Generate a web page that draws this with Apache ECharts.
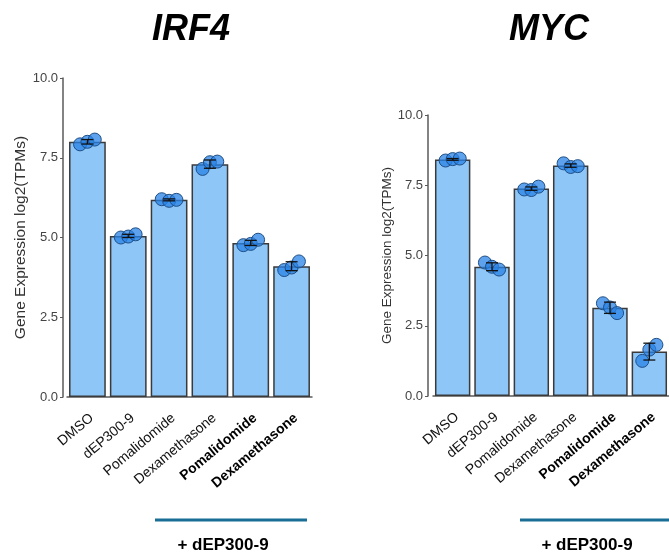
<!DOCTYPE html>
<html>
<head>
<meta charset="utf-8">
<script src="https://cdn.jsdelivr.net/npm/echarts@6/dist/echarts.min.js"></script>
<style>
html,body{margin:0;padding:0;background:#fff;}
#chart{width:669px;height:552px;}
</style>
</head>
<body>
<div id="chart"></div>
<script>
// ---- data ----
const categories = ['DMSO', 'dEP300-9', 'Pomalidomide', 'Dexamethasone', 'Pomalidomide', 'Dexamethasone'];
const boldLabels = [false, false, false, false, true, true];
const yTicks = [0, 2.5, 5, 7.5, 10];

const irf4Means = [8.0, 5.05, 6.18, 7.30, 4.83, 4.10];
const irf4Err = [0.07, 0.05, 0.03, 0.13, 0.08, 0.14];
const irf4Reps = [
  [7.92, 8.00, 8.07],
  [5.00, 5.03, 5.10],
  [6.20, 6.15, 6.18],
  [7.15, 7.36, 7.38],
  [4.76, 4.80, 4.93],
  [3.98, 4.06, 4.25]
];

const mycMeans = [8.42, 4.60, 7.38, 8.20, 3.14, 1.58];
const mycErr = [0.03, 0.14, 0.06, 0.06, 0.20, 0.30];
const mycReps = [
  [8.38, 8.43, 8.45],
  [4.75, 4.60, 4.50],
  [7.35, 7.33, 7.45],
  [8.28, 8.15, 8.18],
  [3.30, 3.15, 2.95],
  [1.25, 1.65, 1.82]
];

const titles = ['IRF4', 'MYC'];
const yName = 'Gene Expression log2(TPMs)';
const groupLabel = '+ dEP300-9';

// jitter pattern (fraction of category band) for replicate dots
const jitter = [-0.18, 0.0, 0.18];

const FONT = '"Liberation Sans", Arial, sans-serif';
const BAR_FILL = '#8fc6f8';
const BAR_EDGE = '#3a3a3a';
const DOT_FILL = 'rgba(40,130,230,0.75)';
const DOT_EDGE = '#1f4f86';
const AXIS_COL = '#5a5a5a';

const chart = echarts.init(document.getElementById('chart'), null, {renderer: 'canvas'});

function xAxisCfg(gridIndex) {
  return {
    type: 'category', gridIndex: gridIndex, data: categories,
    axisLine: {lineStyle: {color: AXIS_COL, width: 1.5}},
    axisTick: {alignWithLabel: true, length: 4, lineStyle: {color: AXIS_COL}},
    axisLabel: {
      rotate: 40, margin: 14, interval: 0, verticalAlign: 'top',
      fontFamily: FONT, fontSize: 14, color: '#111',
      formatter: function (v, i) { return boldLabels[i] ? '{b|' + v + '}' : '{n|' + v + '}'; },
      rich: {
        n: {fontFamily: FONT, fontSize: 14, color: '#111'},
        b: {fontFamily: FONT, fontSize: 14, fontWeight: 'bold', color: '#000'}
      }
    }
  };
}
function yAxisCfg(gridIndex, offset, nameGap, nameSize) {
  return {
    type: 'value', gridIndex: gridIndex, min: 0, max: 10, interval: 2.5, offset: offset,
    name: yName, nameLocation: 'middle', nameGap: nameGap,
    nameTextStyle: {fontFamily: FONT, fontSize: nameSize, color: '#333'},
    axisLine: {show: true, lineStyle: {color: AXIS_COL, width: 1.5}},
    axisTick: {show: true, length: 3, lineStyle: {color: AXIS_COL}},
    splitLine: {show: false},
    axisLabel: {
      margin: 5, fontFamily: FONT, fontSize: 13, color: '#444',
      customValues: yTicks,
      formatter: function (v) { return v.toFixed(1); }
    }
  };
}

function barSeries(idx, means) {
  return {
    type: 'bar', xAxisIndex: idx, yAxisIndex: idx, data: means, barWidth: '90%',
    itemStyle: {color: BAR_FILL, borderColor: BAR_EDGE, borderWidth: 1.5},
    silent: true, z: 2
  };
}
function dotSeries(idx, reps) {
  const d = [];
  reps.forEach(function (arr, i) { arr.forEach(function (v, r) { d.push([i, v, r]); }); });
  return {
    type: 'custom', xAxisIndex: idx, yAxisIndex: idx, data: d, z: 3, silent: true,
    renderItem: function (params, api) {
      const c = api.coord([api.value(0), api.value(1)]);
      const bw = api.size([1, 0])[0];
      return {
        type: 'circle',
        shape: {cx: c[0] + jitter[api.value(2)] * bw, cy: c[1], r: 6.5},
        style: {fill: DOT_FILL, stroke: DOT_EDGE, lineWidth: 1}
      };
    }
  };
}
function errSeries(idx, means, errs) {
  const d = means.map(function (m, i) { return [i, m, errs[i]]; });
  return {
    type: 'custom', xAxisIndex: idx, yAxisIndex: idx, data: d, z: 4, silent: true,
    renderItem: function (params, api) {
      const i = api.value(0), m = api.value(1), e = api.value(2);
      const top = api.coord([i, m + e]);
      const bot = api.coord([i, m - e]);
      const hw = 6;
      const st = {stroke: '#111', lineWidth: 1.3};
      return {
        type: 'group',
        children: [
          {type: 'line', shape: {x1: top[0], y1: top[1], x2: bot[0], y2: bot[1]}, style: st},
          {type: 'line', shape: {x1: top[0] - hw, y1: top[1], x2: top[0] + hw, y2: top[1]}, style: st},
          {type: 'line', shape: {x1: bot[0] - hw, y1: bot[1], x2: bot[0] + hw, y2: bot[1]}, style: st}
        ]
      };
    }
  };
}

const option = {
  backgroundColor: '#fff',
  animation: false,
  title: [
    {text: titles[0], left: 186, top: 7, textAlign: 'center',
     textStyle: {fontFamily: FONT, fontSize: 36, fontWeight: 'bold', fontStyle: 'italic', color: '#000'}},
    {text: titles[1], left: 544, top: 7, textAlign: 'center',
     textStyle: {fontFamily: FONT, fontSize: 36, fontWeight: 'bold', fontStyle: 'italic', color: '#000'}}
  ],
  grid: [
    {left: 67, width: 245, top: 78, height: 319},
    {left: 433, width: 241.5, top: 115, height: 281}
  ],
  xAxis: [xAxisCfg(0), xAxisCfg(1)],
  yAxis: [yAxisCfg(0, 4, 27, 15.5), yAxisCfg(1, 5, 31, 13.5)],
  series: [
    barSeries(0, irf4Means), dotSeries(0, irf4Reps), errSeries(0, irf4Means, irf4Err),
    barSeries(1, mycMeans), dotSeries(1, mycReps), errSeries(1, mycMeans, mycErr)
  ],
  graphic: [
    {type: 'line', shape: {x1: 155, y1: 520, x2: 307, y2: 520}, style: {stroke: '#1a6e96', lineWidth: 3}},
    {type: 'line', shape: {x1: 520, y1: 520, x2: 672, y2: 520}, style: {stroke: '#1a6e96', lineWidth: 3}},
    {type: 'text', x: 223, y: 545, style: {text: groupLabel, x: 0, y: 0, align: 'center', verticalAlign: 'middle',
      font: 'bold 17px "Liberation Sans", Arial, sans-serif', fill: '#000'}},
    {type: 'text', x: 587, y: 545, style: {text: groupLabel, x: 0, y: 0, align: 'center', verticalAlign: 'middle',
      font: 'bold 17px "Liberation Sans", Arial, sans-serif', fill: '#000'}}
  ]
};
chart.setOption(option);
</script>
</body>
</html>
